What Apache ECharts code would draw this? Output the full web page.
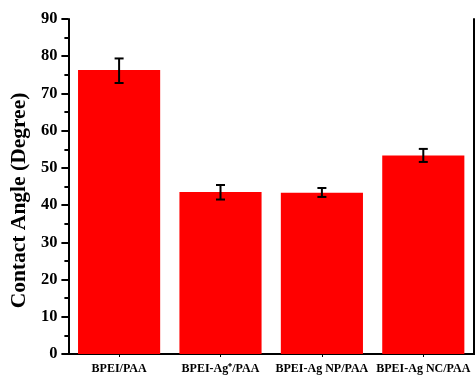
<!DOCTYPE html>
<html><head><meta charset="utf-8">
<script src="https://cdn.jsdelivr.net/npm/echarts@6/dist/echarts.min.js"></script>
<style>html,body{margin:0;padding:0;background:#fff}#c{width:476px;height:377px}</style>
</head><body><div id="c"></div>
<script>
const categories = ['BPEI/PAA', 'BPEI-Ag\u207A/PAA', 'BPEI-Ag NP/PAA', 'BPEI-Ag NC/PAA'];
const values = [76.3, 43.5, 43.3, 53.3];
const errLow = [72.8, 41.5, 42.2, 51.6];
const errHigh = [79.4, 45.4, 44.6, 55.1];
const yTicks = [0, 10, 20, 30, 40, 50, 60, 70, 80, 90];

const font = '"Liberation Serif","Times New Roman",serif';
const chart = echarts.init(document.getElementById('c'));
chart.setOption({
  animation: false,
  grid: { left: 65, right: 2, top: 19, bottom: 23 },
  xAxis: [{
    type: 'category', data: categories, position: 'bottom',
    axisLine: { lineStyle: { color: '#000', width: 2 } },
    axisTick: { show: true, alignWithLabel: true, length: 3, lineStyle: { color: '#000', width: 1 } },
    axisLabel: { color: '#000', fontFamily: font, fontWeight: 'bold', fontSize: 12, margin: 9, interval: 0 }
  }, {
    type: 'category', data: categories, position: 'top',
    axisLine: { lineStyle: { color: '#000', width: 2 } },
    axisTick: { show: true, inside: true, alignWithLabel: true, length: 3, lineStyle: { color: '#000' } },
    axisLabel: { show: false }
  }],
  yAxis: [{
    type: 'value', min: 0, max: 90, interval: 10,
    name: 'Contact Angle (Degree)', nameLocation: 'middle', nameGap: 37,
    nameTextStyle: { color: '#000', fontFamily: font, fontWeight: 'bold', fontSize: 21.5, padding: [0, 28, 0, 0] },
    axisLine: { show: true, lineStyle: { color: '#000', width: 2 } },
    axisTick: { show: true, length: 7, lineStyle: { color: '#000', width: 2 } },
    minorTick: { show: true, splitNumber: 2, length: 4, lineStyle: { color: '#000', width: 2 } },
    splitLine: { show: false },
    axisLabel: { color: '#000', fontFamily: font, fontWeight: 'bold', fontSize: 16.5, margin: 11,
      formatter: v => yTicks.includes(v) ? String(v) : '' }
  }, {
    type: 'value', min: 0, max: 90, interval: 10, position: 'right',
    axisLine: { show: true, lineStyle: { color: '#000', width: 2 } },
    axisTick: { show: false }, axisLabel: { show: false }, splitLine: { show: false }
  }],
  series: [{
    type: 'bar', data: values, barWidth: '81%',
    itemStyle: { color: '#ff0000' }
  }, {
    type: 'custom',
    data: categories.map((c, i) => [i, errLow[i], errHigh[i]]),
    renderItem: function (params, api) {
      const lo = api.coord([api.value(0), api.value(1)]);
      const hi = api.coord([api.value(0), api.value(2)]);
      const w = 4.5;
      const style = { stroke: '#000', lineWidth: 2 };
      return { type: 'group', children: [
        { type: 'line', shape: { x1: lo[0], y1: lo[1], x2: hi[0], y2: hi[1] }, style },
        { type: 'line', shape: { x1: lo[0] - w, y1: lo[1], x2: lo[0] + w, y2: lo[1] }, style },
        { type: 'line', shape: { x1: hi[0] - w, y1: hi[1], x2: hi[0] + w, y2: hi[1] }, style }
      ]};
    },
    z: 10
  }]
});
</script></body></html>
